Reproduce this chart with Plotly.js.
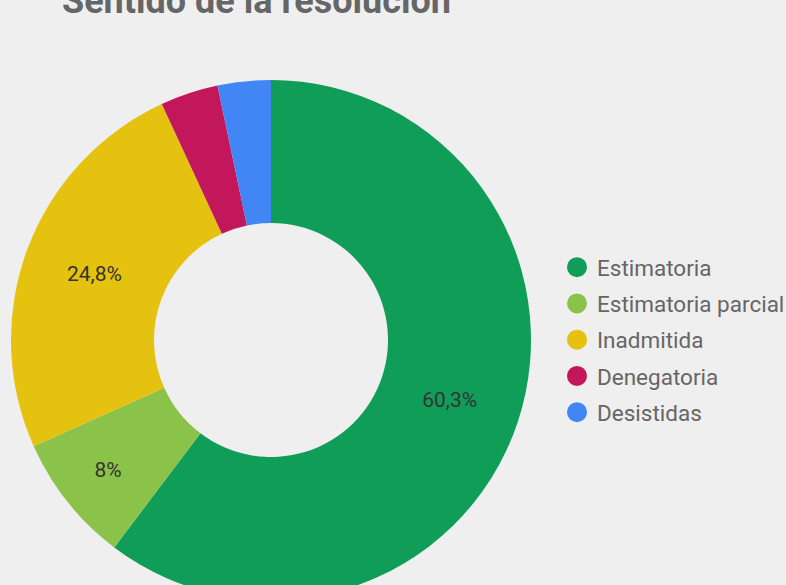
<!DOCTYPE html>
<html>
<head>
<meta charset="utf-8">
<script src="https://cdn.plot.ly/plotly-3.0.1.min.js"></script>
<style>
html,body{margin:0;padding:0;background:#efefef;overflow:hidden;width:786px;height:585px;}
#chart{width:786px;height:620px;}
</style>
</head>
<body>
<div id="chart"></div>
<script>
const categories = ['Estimatoria', 'Estimatoria parcial', 'Inadmitida', 'Denegatoria', 'Desistidas'];
const values = [60.3, 8, 24.8, 3.6, 3.3];
const colors = ['#0f9d58', '#8bc34a', '#e6c210', '#c2185b', '#4285f4'];
const labelTemplates = ['%{percent:.1%}', '%{percent:.0%}', '%{percent:.1%}', '', ''];

const pie = {
  type: 'pie',
  labels: categories,
  values: values,
  sort: false,
  direction: 'clockwise',
  rotation: 0,
  hole: 0.45,
  marker: {colors: colors, line: {width: 0}},
  texttemplate: labelTemplates,
  textposition: 'inside',
  insidetextorientation: 'horizontal',
  textfont: {family: 'Roboto', size: 21, color: '#333333'},
  showlegend: false,
  domain: {x: [11/786, 531/786], y: [1 - 600/620, 1 - 80/620]}
};

const legendTraces = categories.map((c, i) => ({
  type: 'scatter',
  mode: 'markers',
  x: [null], y: [null],
  name: c,
  legendgroup: c,
  marker: {color: colors[i], size: 16, symbol: 'circle', line: {color: colors[i], width: 4}},
  showlegend: true
}));

const layout = {
  width: 786,
  height: 620,
  paper_bgcolor: '#efefef',
  plot_bgcolor: '#efefef',
  margin: {l: 0, r: 0, t: 0, b: 0, autoexpand: false},
  separators: ',.',
  font: {family: 'Roboto', color: '#666666'},
  title: {
    text: '<b>Sentido de la resolución</b>',
    font: {family: 'Roboto', size: 36, color: '#666666'},
    xref: 'container', yref: 'container',
    x: 62/786, xanchor: 'left',
    y: 1, yanchor: 'middle',
    automargin: false
  },
  xaxis: {visible: false, domain: [0.9, 1]},
  yaxis: {visible: false, domain: [0.9, 1]},
  showlegend: true,
  legend: {
    x: 557/786, xanchor: 'left',
    y: 1 - 340/620, yanchor: 'middle',
    font: {family: 'Roboto', size: 22.5, color: '#666666'},
    traceorder: 'grouped',
    tracegroupgap: 4,
    bgcolor: 'rgba(0,0,0,0)',
    itemclick: false
  }
};

Plotly.newPlot('chart', [pie].concat(legendTraces), layout, {displayModeBar: false, staticPlot: true});
</script>
</body>
</html>
